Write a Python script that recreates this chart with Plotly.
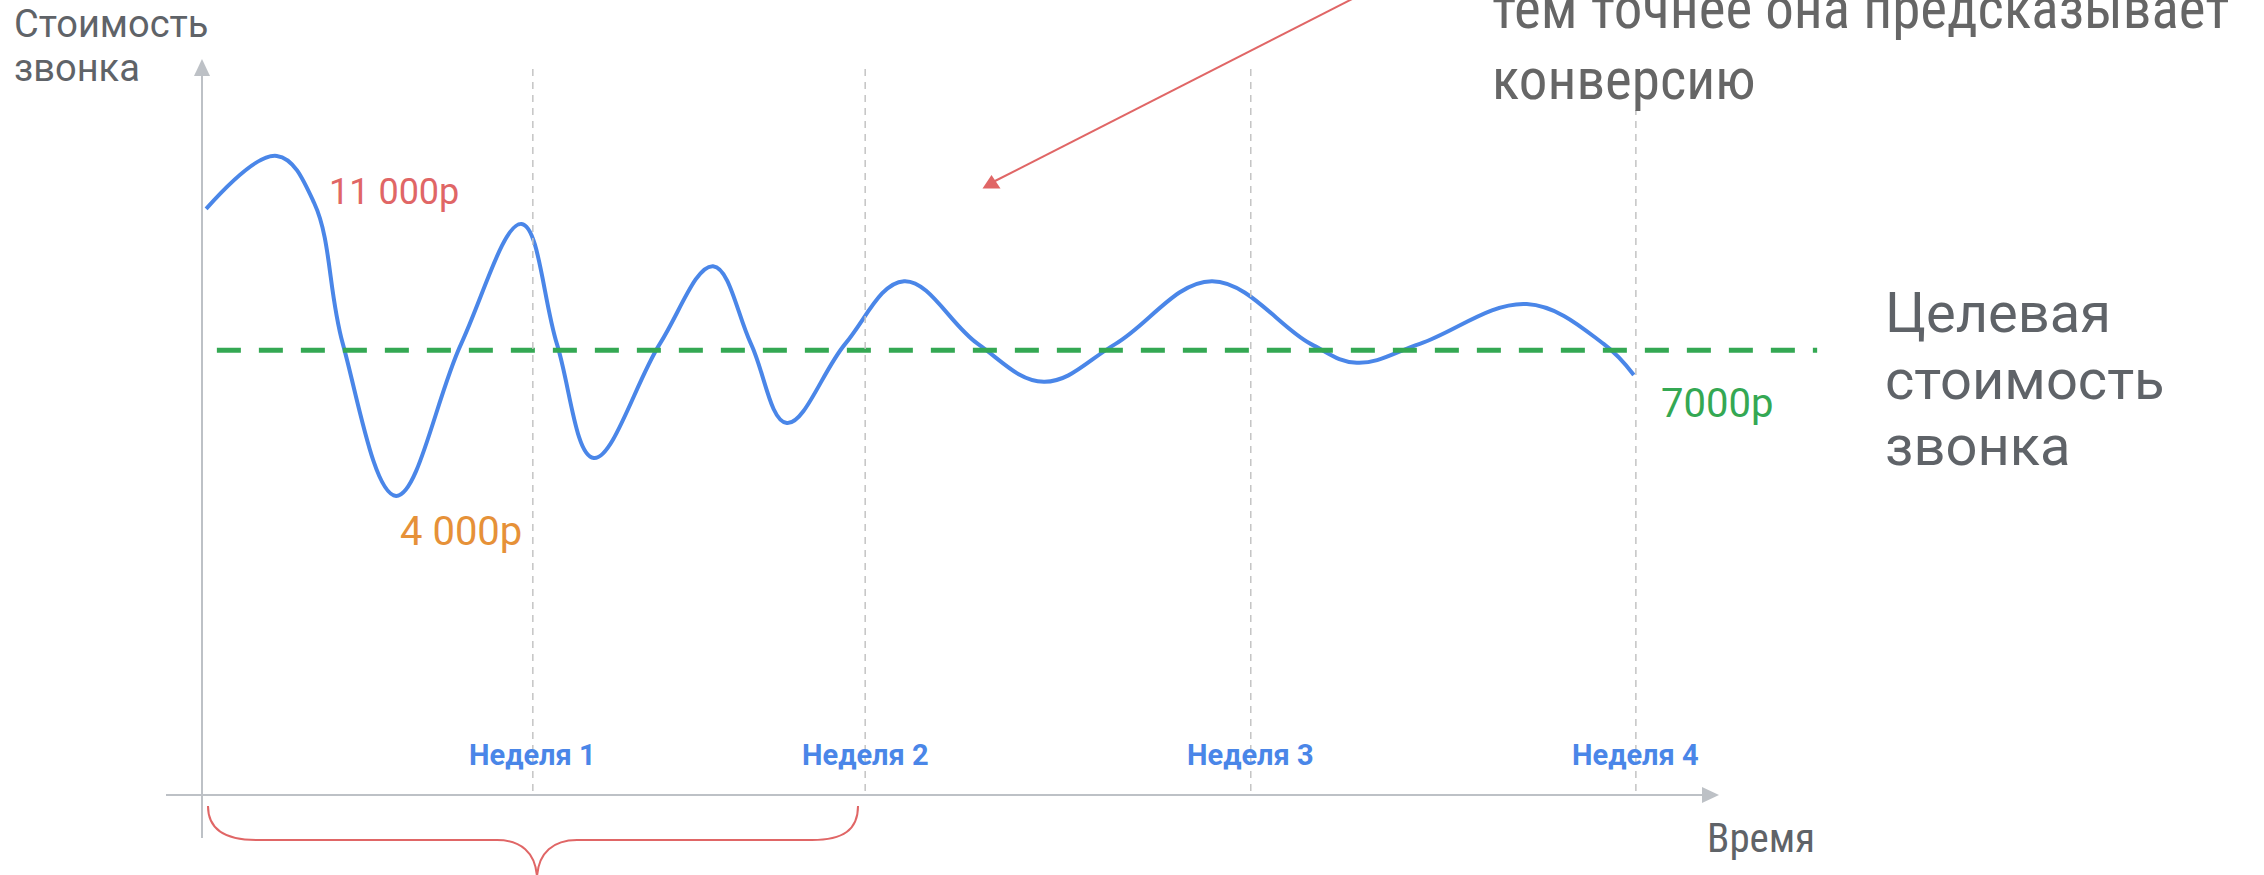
import plotly.graph_objects as go

W, H = 2264, 875

# ---- data -------------------------------------------------------------
# time since launch (days) and cost per call (roubles): swings and crossings
t_days = [0.08, 1.46, 2.19, 2.75, 3.79, 5.06, 6.24, 6.93, 7.65, 8.94,
          9.98, 10.72, 11.42, 12.56, 13.71, 15.15, 16.44, 17.84, 19.72, 21.65,
          22.55, 23.78, 25.87, 27.37, 27.96]
cost = [9910, 11000, 10030, 7130, 4000, 7130, 9600, 7130, 4780, 7130,
        8730, 7130, 5500, 7130, 8420, 7130, 6350, 7130, 8420, 7130,
        6740, 7130, 7950, 7130, 6490]

target_t = [0.29, 31.54]
target_cost = [7000, 7000]

week_pos = [6.46, 12.95, 20.48, 28.0]
week_labels = ["Неделя 1", "Неделя 2", "Неделя 3", "Неделя 4"]

max_cost, min_cost = 11000, 4000
max_label, min_label, target_label = "11 000р", "4 000р", "7000р"

# ---- view -------------------------------------------------------------
X_RANGE = [-3.945, 40.266]
Y_RANGE = [-3806, 14210]

GRAY_TXT = "#5f6368"
AXIS_GRAY = "#bdc1c6"
BLUE = "#4a86e8"
RED = "#e06666"
ORANGE = "#e69138"
GREEN = "#34a853"
SANS = "Roboto, 'Open Sans', sans-serif"
NARROW = "'Liberation Sans Narrow', 'Roboto Condensed', 'DejaVu Sans Condensed', 'Arial Narrow', sans-serif"


def px(x, y):
    """pixel position on the page -> paper fraction"""
    return x / W, 1 - y / H


def path(points, close=True):
    parts = []
    for i, (x, y) in enumerate(points):
        fx, fy = px(x, y)
        parts.append(("M" if i == 0 else "L") + f"{fx:.5f},{fy:.5f}")
    return " ".join(parts) + (" Z" if close else "")


fig = go.Figure()

# converging cost curve
fig.add_trace(go.Scatter(
    x=t_days, y=cost, mode="lines",
    line=dict(color=BLUE, width=4, shape="spline", smoothing=1.1),
    hoverinfo="skip", showlegend=False))

# target cost
fig.add_trace(go.Scatter(
    x=target_t, y=target_cost, mode="lines",
    line=dict(color=GREEN, width=5, dash="24px,18px"),
    hoverinfo="skip", showlegend=False))

shapes = []

# axes with arrow heads
for (x0, y0, x1, y1) in [(202, 838, 202, 74), (166, 795, 1703, 795)]:
    a, b = px(x0, y0)
    c, d = px(x1, y1)
    shapes.append(dict(type="line", xref="paper", yref="paper",
                       x0=a, y0=b, x1=c, y1=d,
                       line=dict(color=AXIS_GRAY, width=2)))
shapes.append(dict(type="path", xref="paper", yref="paper",
                   path=path([(202, 59), (194, 76), (210, 76)]),
                   fillcolor=AXIS_GRAY, line=dict(width=0)))
shapes.append(dict(type="path", xref="paper", yref="paper",
                   path=path([(1719, 795), (1702, 787), (1702, 803)]),
                   fillcolor=AXIS_GRAY, line=dict(width=0)))

# week markers
week_tops = [68, 68, 68, 110]
for wp, top in zip(week_pos, week_tops):
    shapes.append(dict(type="line", xref="x", yref="paper",
                       x0=wp, x1=wp, y0=1 - 791 / H, y1=1 - top / H,
                       line=dict(color="#c4c4c4", width=1.5, dash="7px,6px")))

# pointer from the note
a, b = px(1360, -5)
c, d = px(993, 182)
shapes.append(dict(type="line", xref="paper", yref="paper",
                   x0=a, y0=b, x1=c, y1=d, line=dict(color=RED, width=2)))
shapes.append(dict(type="path", xref="paper", yref="paper",
                   path=path([(991.5, 175), (982.5, 188.5), (1000.5, 188.5)]),
                   fillcolor=RED, line=dict(width=0)))


# curly brace under the first two weeks
def bp(x, y):
    fx, fy = px(x, y)
    return f"{fx:.5f},{fy:.5f}"


brace = (f"M{bp(208, 806)} C{bp(208, 830)} {bp(225, 840)} {bp(256, 840)} "
         f"L{bp(497, 840)} C{bp(520, 840)} {bp(536, 852)} {bp(537, 878)} "
         f"M{bp(537, 878)} C{bp(538, 852)} {bp(554, 840)} {bp(577, 840)} "
         f"L{bp(812, 840)} C{bp(843, 840)} {bp(858, 830)} {bp(858, 806)}")
shapes.append(dict(type="path", xref="paper", yref="paper", path=brace,
                   line=dict(color=RED, width=2)))

annotations = []


def note(x, y, text, size, color, family=SANS, xanchor="left", **kw):
    fx, fy = px(x, y)
    annotations.append(dict(xref="paper", yref="paper", x=fx, y=fy,
                            text=text, showarrow=False, xanchor=xanchor,
                            yanchor="middle",
                            font=dict(size=size, color=color, family=family),
                            **kw))


# axis titles
note(12, 24, "Стоимость", 38, GRAY_TXT)
note(12, 68, "звонка", 38, GRAY_TXT)
note(1705, 838, "Время", 41, GRAY_TXT, family=NARROW)

# target caption
note(1883, 313, "Целевая", 56, GRAY_TXT)
note(1883, 380, "стоимость", 56, GRAY_TXT)
note(1883, 446, "звонка", 56, GRAY_TXT)

# note text (continues above the page edge)
note(1490, 9, "тем точнее она предсказывает", 57, "#666666", family=NARROW)
note(1490, 79, "конверсию", 57, "#666666", family=NARROW)

# week names
for wp, lab in zip(week_pos, week_labels):
    annotations.append(dict(xref="x", yref="paper", x=wp, y=1 - 755 / H,
                            text=f"<b>{lab}</b>", showarrow=False,
                            xanchor="center", yanchor="middle",
                            font=dict(size=29, color=BLUE, family=SANS)))

# value call-outs
peak_i = cost.index(max_cost)
low_i = cost.index(min_cost)
annotations.append(dict(xref="x", yref="y", x=t_days[peak_i], y=max_cost,
                        text=max_label, showarrow=False, xanchor="left",
                        yanchor="middle", xshift=50, yshift=-36,
                        font=dict(size=36, color=RED, family=SANS)))
annotations.append(dict(xref="x", yref="y", x=t_days[low_i], y=min_cost,
                        text=min_label, showarrow=False, xanchor="left",
                        yanchor="middle", xshift=2, yshift=-36,
                        font=dict(size=40, color=ORANGE, family=SANS)))
annotations.append(dict(xref="x", yref="y", x=t_days[-1], y=target_cost[0],
                        text=target_label, showarrow=False, xanchor="left",
                        yanchor="middle", xshift=25, yshift=-53,
                        font=dict(size=40, color=GREEN, family=SANS)))

fig.update_layout(
    width=W, height=H,
    margin=dict(l=0, r=0, t=0, b=0),
    paper_bgcolor="white", plot_bgcolor="white",
    xaxis=dict(range=X_RANGE, visible=False, fixedrange=True),
    yaxis=dict(range=Y_RANGE, visible=False, fixedrange=True),
    shapes=shapes, annotations=annotations,
    showlegend=False,
)

fig.write_html("out.html", config={"displayModeBar": False})
